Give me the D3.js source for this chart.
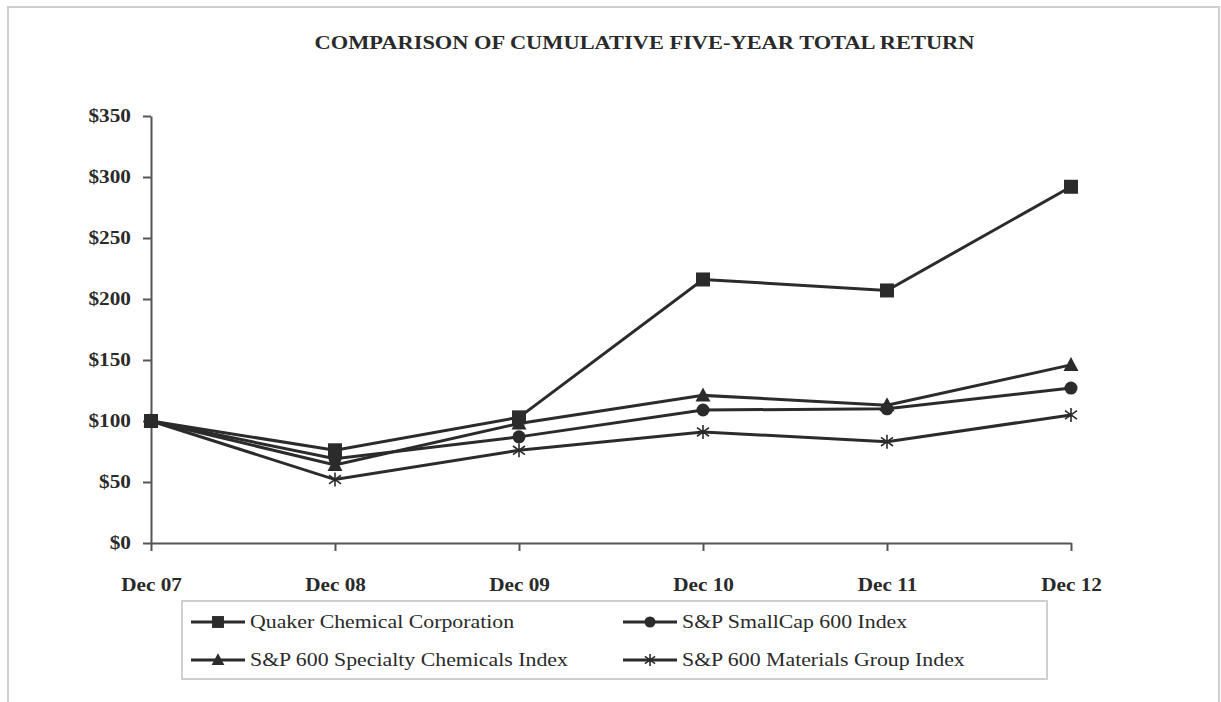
<!DOCTYPE html>
<html>
<head>
<meta charset="utf-8">
<script src="https://cdn.jsdelivr.net/npm/d3@7"></script>
<style>
  body { margin: 0; background: #fff; }
  svg { display: block; }
  text { font-family: "Liberation Serif", "Times New Roman", serif; fill: #2a2a2a; }
</style>
</head>
<body>
<div id="chart"></div>
<script>
// years along the x axis
const years = ["Dec 07", "Dec 08", "Dec 09", "Dec 10", "Dec 11", "Dec 12"];

// cumulative return, $100 invested
const quaker = [100, 76, 103, 216, 207, 292];
const smallCap = [100, 69, 87, 109, 110, 127];
const specialty = [100, 64, 98, 121, 113, 146];
const materials = [100, 52, 76, 91, 83, 105];

const seriesNames = [
    "Quaker Chemical Corporation",
    "S&P SmallCap 600 Index",
    "S&P 600 Specialty Chemicals Index",
    "S&P 600 Materials Group Index"
];
const yTicks = [0, 50, 100, 150, 200, 250, 300, 350];

const series = [
    { name: seriesNames[0], values: quaker, marker: "square" },
    { name: seriesNames[1], values: smallCap, marker: "circle" },
    { name: seriesNames[2], values: specialty, marker: "triangle" },
    { name: seriesNames[3], values: materials, marker: "star" }
];

const W = 1221, H = 702;
const ink = "#2b2b2b";
const stretch = "scale(1.18,1)";

const svg = d3.select("#chart").append("svg")
    .attr("width", W)
    .attr("height", H);

// outer frame
svg.append("rect")
    .attr("x", 8).attr("y", 7)
    .attr("width", 1211).attr("height", 720)
    .attr("fill", "none")
    .attr("stroke", "#cfcfcf")
    .attr("stroke-width", 2);

// title
svg.append("text")
    .attr("transform", `translate(${(W / 2) + 34},49) ${stretch}`)
    .attr("text-anchor", "middle")
    .attr("font-size", "19px")
    .attr("font-weight", "bold")
    .text("COMPARISON OF CUMULATIVE FIVE-YEAR TOTAL RETURN");

// scales
const x = d3.scalePoint()
    .domain(years)
    .range([151, 1071]);

const y = d3.scaleLinear()
    .domain([0, 350])
    .range([543, 116]);

// y axis
const yAxis = svg.append("g")
    .attr("transform", "translate(151,0)")
    .call(d3.axisLeft(y).tickValues(yTicks).tickSize(8).tickSizeOuter(0).tickFormat(d => "$" + d));

yAxis.select(".domain").attr("stroke", "#555").attr("stroke-width", 2);
yAxis.selectAll(".tick line").attr("stroke", "#555").attr("stroke-width", 2);
yAxis.selectAll(".tick text")
    .attr("x", -17)
    .attr("transform", stretch)
    .attr("font-size", "18px")
    .attr("font-weight", "bold")
    .attr("fill", "#2a2a2a");

// x axis
const xAxis = svg.append("g")
    .attr("transform", "translate(0,543)")
    .call(d3.axisBottom(x).tickSize(8).tickSizeOuter(0));

xAxis.select(".domain").attr("stroke", "#555").attr("stroke-width", 2);
xAxis.selectAll(".tick line").attr("stroke", "#555").attr("stroke-width", 2);
xAxis.selectAll(".tick text")
    .attr("y", 42)
    .attr("dy", "0.32em")
    .attr("transform", stretch)
    .attr("font-size", "18px")
    .attr("font-weight", "bold")
    .attr("fill", "#2a2a2a");

// marker shapes
function drawMarker(g, type, size) {
    const s = size || 1;
    if (type === "square") {
        g.append("rect")
            .attr("x", -7 * s).attr("y", -7 * s)
            .attr("width", 14 * s).attr("height", 14 * s)
            .attr("fill", ink);
    } else if (type === "circle") {
        g.append("circle").attr("r", 6.5 * s).attr("fill", ink);
    } else if (type === "triangle") {
        g.append("path")
            .attr("d", `M0,${-8 * s} L${7.5 * s},${6 * s} L${-7.5 * s},${6 * s} Z`)
            .attr("fill", ink);
    } else {
        const a = 7 * s, b = 6 * s;
        g.append("path")
            .attr("d", `M0,${-a} L0,${a} M${-b},${-b / 1.4} L${b},${b / 1.4} M${-b},${b / 1.4} L${b},${-b / 1.4}`)
            .attr("stroke", ink)
            .attr("stroke-width", 1.6)
            .attr("fill", "none");
    }
}

const line = d3.line()
    .x((d, i) => x(years[i]))
    .y(d => y(d));

// draw from the bottom series up so Quaker sits on top
const order = [3, 1, 2, 0];
order.forEach(k => {
    const s = series[k];
    svg.append("path")
        .datum(s.values)
        .attr("d", line)
        .attr("fill", "none")
        .attr("stroke", ink)
        .attr("stroke-width", 3);
});
order.forEach(k => {
    const s = series[k];
    s.values.forEach((v, i) => {
        const g = svg.append("g").attr("transform", `translate(${x(years[i])},${y(v)})`);
        drawMarker(g, s.marker);
    });
});

// legend
const legend = svg.append("g");
legend.append("rect")
    .attr("x", 182).attr("y", 601)
    .attr("width", 865).attr("height", 78)
    .attr("fill", "none")
    .attr("stroke", "#cfcfcf")
    .attr("stroke-width", 2);

const legendPos = [[191, 622], [623, 622], [191, 660], [623, 660]];
const legendOrder = [0, 1, 2, 3];
legendOrder.forEach((k, j) => {
    const [lx, ly] = legendPos[j];
    const item = legend.append("g").attr("transform", `translate(${lx},${ly})`);
    item.append("line")
        .attr("x1", 0).attr("x2", 54)
        .attr("stroke", ink)
        .attr("stroke-width", 3);
    drawMarker(item.append("g").attr("transform", "translate(27,0)"), series[k].marker, 0.85);
    item.append("text")
        .attr("transform", `translate(59,0) ${stretch}`)
        .attr("dy", "0.35em")
        .attr("font-size", "18.5px")
        .text(series[k].name);
});
</script>
</body>
</html>
